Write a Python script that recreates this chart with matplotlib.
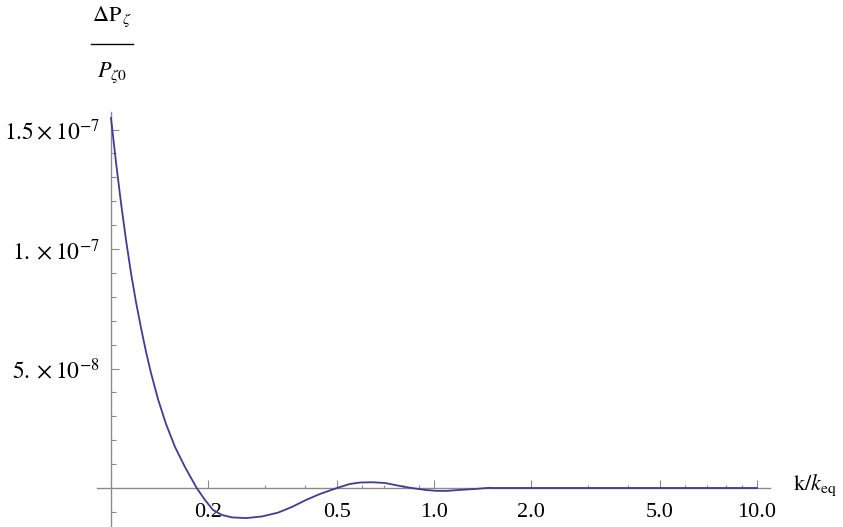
import matplotlib

matplotlib.use("Agg")
import matplotlib.pyplot as plt
from matplotlib.lines import Line2D

# values (k / k_eq, Delta P / P0)
k_vals = [0.1000, 0.1036, 0.1074, 0.1113, 0.1153, 0.1195, 0.1239, 0.1283,
          0.1330, 0.1398, 0.1480, 0.1578, 0.1694, 0.1842, 0.1954, 0.2070,
          0.2207, 0.2370, 0.2619, 0.2937, 0.3290, 0.3636, 0.4016, 0.4437,
          0.5006, 0.5495, 0.5902, 0.6429, 0.7052, 0.7737, 0.8530, 0.9380,
          1.0216, 1.0971, 1.2035, 1.3397, 1.4910, 1.5, 10.0]
dp_vals = [15.48, 13.64, 11.92, 10.38, 9.00, 7.78, 6.69, 5.71,
           4.81, 3.72, 2.68, 1.72, 0.88, 0.0, -0.50, -0.92,
           -1.13, -1.23, -1.26, -1.19, -1.03, -0.79, -0.50, -0.25,
           0.0, 0.17, 0.23, 0.24, 0.21, 0.10, 0.0, -0.08,
           -0.12, -0.12, -0.08, -0.04, 0.01, 0.0, 0.0]
dp_vals = [v * 1e-8 for v in dp_vals]

x_major = [0.2, 0.5, 1.0, 2.0, 5.0, 10.0]
x_major_labels = ["0.2", "0.5", "1.0", "2.0", "5.0", "10.0"]
x_minor = [0.3, 0.4, 0.6, 0.7, 0.8, 0.9, 3, 4, 6, 7, 8, 9]
y_major = [5e-8, 1e-7, 1.5e-7]
y_major_labels = [r"$5.\times10^{-8}$", r"$1.\times10^{-7}$", r"$1.5\times10^{-7}$"]
y_minor = [i * 1e-8 for i in range(-1, 16) if i % 5 != 0]

plt.rcParams["font.family"] = "serif"
plt.rcParams["font.serif"] = ["Liberation Serif", "DejaVu Serif"]
plt.rcParams["mathtext.fontset"] = "stix"

W, H = 843, 527
fig = plt.figure(figsize=(W / 100, H / 100), dpi=100)


def fx(px):
    return px / W


def fy(py):
    return 1 - py / H


ax = fig.add_axes([fx(97), fy(527), fx(770) - fx(97), fy(112) - fy(527)])
line_col = "#3d3d99"
axis_col = "#8a8a8a"

ax.plot(k_vals, dp_vals, color=line_col, lw=1.3, clip_on=False, zorder=3)
ax.set_xscale("log")
ax.set_xlim(10 ** (-1 - 14 / 323), 10 ** (-1 + 659 / 323))
ax.set_ylim(-39 / 239 * 1e-7, 376 / 239 * 1e-7)

for s in ["top", "right"]:
    ax.spines[s].set_visible(False)
ax.spines["left"].set_position(("data", 0.1))
ax.spines["bottom"].set_position(("data", 0))
for s in ["left", "bottom"]:
    ax.spines[s].set_color(axis_col)
    ax.spines[s].set_linewidth(1.0)

ax.set_xticks(x_major)
ax.set_xticklabels(x_major_labels)
ax.set_xticks(x_minor, minor=True)
ax.xaxis.set_minor_formatter(plt.NullFormatter())
ax.set_yticks(y_major)
ax.set_yticklabels(y_major_labels)
ax.set_yticks(y_minor, minor=True)

ax.tick_params(axis="x", which="major", direction="in", length=5.5, width=0.8,
               color=axis_col, labelsize=16, pad=11)
ax.tick_params(axis="x", which="minor", direction="in", length=2.2, width=0.8,
               color=axis_col)
ax.tick_params(axis="y", which="major", direction="in", length=5.8, width=0.8,
               color=axis_col, labelsize=17, pad=8)
ax.tick_params(axis="y", which="minor", direction="in", length=3.3, width=0.8,
               color=axis_col)

# axis labels
fig.text(fx(793), fy(485), r"$\mathrm{k}/k_{\mathrm{eq}}$", fontsize=16,
         ha="left", va="center")
fig.text(fx(112), fy(17), r"$\Delta\mathrm{P}_{\,\zeta}$", fontsize=16,
         ha="center", va="center")
fig.text(fx(112), fy(73), r"$P_{\zeta 0}$", fontsize=16, ha="center", va="center")
fig.add_artist(Line2D([fx(91), fx(133)], [fy(44), fy(44)], color="black", lw=1.0))

fig.savefig("out.png", dpi=100)
